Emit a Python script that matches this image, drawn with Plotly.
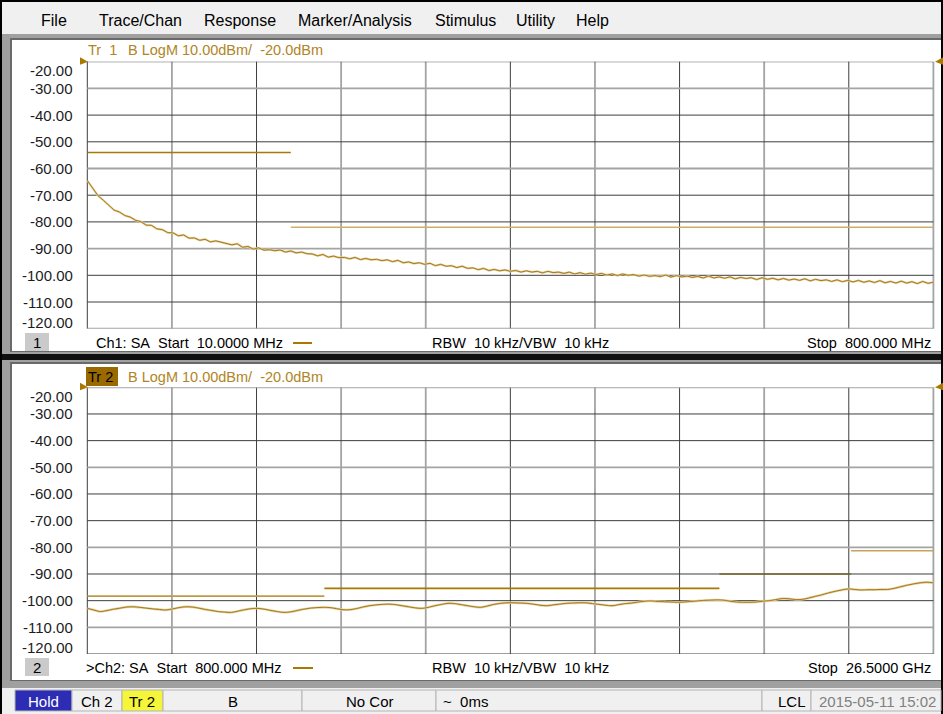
import numpy as np
import plotly.graph_objects as go

# ---------------- data ----------------
y_ticks = [-20, -30, -40, -50, -60, -70, -80, -90, -100, -110, -120]
y_tick_labels = ["-20.00", "-30.00", "-40.00", "-50.00", "-60.00", "-70.00",
                 "-80.00", "-90.00", "-100.00", "-110.00", "-120.00"]

ch1_start_mhz = 10.0
ch1_stop_mhz = 800.0
ch1_trace_dbm = [
    -64.5, -67.6, -70.2, -71.9, -73.8, -75.6, -76.3, -77.6, -78.2, -79.4,
    -79.9, -81.2, -81.3, -82.6, -82.9, -84.0, -84.1, -85.2, -84.9, -86.1,
    -86.0, -86.9, -86.5, -87.5, -87.1, -87.6, -87.9, -88.6, -88.2, -89.5,
    -89.2, -90.2, -89.7, -90.6, -90.4, -90.8, -90.5, -91.3, -90.9, -91.6,
    -91.3, -91.9, -92.0, -92.7, -92.2, -93.2, -92.8, -93.4, -93.3, -93.8,
    -93.3, -94.1, -93.7, -94.2, -94.0, -94.5, -94.2, -94.9, -94.4, -95.3,
    -95.0, -95.6, -95.3, -95.9, -95.5, -96.4, -95.9, -96.6, -96.4, -97.1,
    -96.6, -97.4, -97.2, -97.9, -97.4, -98.2, -97.8, -98.3, -98.0, -98.5,
    -98.2, -98.8, -98.3, -98.8, -98.5, -99.1, -98.5, -99.0, -98.8, -99.3,
    -98.8, -99.5, -99.0, -99.6, -99.2, -99.7, -99.3, -99.9, -99.5, -100.1,
    -99.5, -100.0, -99.7, -100.3, -99.9, -100.4, -100.1, -100.5, -99.9, -100.7,
    -100.1, -100.6, -100.3, -100.8, -100.4, -101.0, -100.3, -101.0, -100.6, -101.1,
    -100.6, -101.3, -100.8, -101.2, -100.9, -101.6, -100.9, -101.5, -101.1, -101.7,
    -101.2, -101.8, -101.4, -101.9, -101.3, -102.1, -101.5, -102.0, -101.7, -102.3,
    -101.7, -102.4, -101.9, -102.5, -101.9, -102.6, -102.1, -102.7, -102.0, -102.8,
    -102.3, -102.9, -102.2, -102.9, -102.4, -103.1, -102.3, -103.0, -102.6,
]
ch1_limit_start = [10.0, 200.0]
ch1_limit_stop = [200.0, 800.0]
ch1_limit_level = [-54.0, -82.0]

ch2_start_ghz = 0.8
ch2_stop_ghz = 26.5
ch2_trace_dbm = [
    -102.9, -103.5, -104.1, -103.7, -103.2, -102.8, -102.4, -102.3, -102.5, -102.8,
    -103.1, -103.3, -103.5, -103.1, -102.6, -102.3, -102.4, -102.8, -103.3, -103.7,
    -104.1, -104.3, -104.4, -103.9, -103.4, -103.0, -102.9, -103.2, -103.7, -104.1,
    -104.4, -104.2, -103.7, -103.2, -102.8, -102.6, -102.5, -102.6, -103.0, -103.4,
    -103.4, -103.0, -102.4, -101.9, -101.6, -101.4, -101.3, -101.5, -101.9, -102.3,
    -102.7, -102.9, -102.5, -101.9, -101.4, -101.0, -101.1, -101.5, -101.9, -102.3,
    -102.5, -102.0, -101.4, -101.0, -100.8, -100.8, -100.9, -101.0, -101.3, -101.7,
    -101.9, -101.6, -101.3, -101.0, -100.9, -100.8, -100.8, -101.1, -101.4, -101.7,
    -101.9, -101.5, -101.1, -100.9, -100.5, -100.2, -100.1, -100.3, -100.4, -100.5,
    -100.6, -100.5, -100.3, -100.1, -99.9, -99.8, -99.7, -99.8, -100.2, -100.5,
    -100.6, -100.6, -100.5, -100.2, -100.0, -99.6, -99.2, -99.3, -99.6, -99.5,
    -99.0, -98.4, -97.8, -97.1, -96.5, -96.0, -95.6, -95.8, -96.0, -95.9,
    -95.9, -95.8, -95.8, -95.4, -94.8, -94.2, -93.7, -93.3, -93.1, -93.3,
]
ch2_limit_start = [0.8, 8.0, 20.0, 24.0]
ch2_limit_stop = [8.0, 20.0, 24.0, 26.5]
ch2_limit_level = [-98.3, -95.4, -90.0, -81.3]

menu_items = ["File", "Trace/Chan", "Response", "Marker/Analysis", "Stimulus", "Utility", "Help"]

# ---------------- geometry helpers (pixels -> paper) ----------------
W, H = 943, 714


def X(px):
    return px / W


def Y(py):
    return 1 - py / H


PLOT_L, PLOT_R = 87.3, 933.4
P1_T, P1_B = 61.7, 328.7
P2_T, P2_B = 387.3, 654.0

TRACE = "#a57a12"
HALO = "#e2d1a4"
GOLD_TXT = "#b08526"
DARK = "#3e3e3e"
GRAY = "#a4a4a4"
FONT = "Liberation Sans, Arial, sans-serif"

fig = go.Figure()

x1 = np.linspace(ch1_start_mhz, ch1_stop_mhz, len(ch1_trace_dbm))
x2 = np.linspace(ch2_start_ghz, ch2_stop_ghz, len(ch2_trace_dbm))

lim1_colors = ["#a87800", "#cdae6a"]
lim2_colors = ["#c09a48", "#a87800", "#7a6630", "#c7a35a"]
for s, e, lv, c in zip(ch1_limit_start, ch1_limit_stop, ch1_limit_level, lim1_colors):
    fig.add_trace(go.Scatter(x=[s, e], y=[lv, lv], mode="lines", line=dict(color=c, width=1.6),
                             xaxis="x", yaxis="y", hoverinfo="skip"))
for s, e, lv, c in zip(ch2_limit_start, ch2_limit_stop, ch2_limit_level, lim2_colors):
    fig.add_trace(go.Scatter(x=[s, e], y=[lv, lv], mode="lines", line=dict(color=c, width=1.6),
                             xaxis="x2", yaxis="y2", hoverinfo="skip"))

fig.add_trace(go.Scatter(x=x1, y=ch1_trace_dbm, mode="lines", line=dict(color=HALO, width=2.2),
                         xaxis="x", yaxis="y", hoverinfo="skip"))
fig.add_trace(go.Scatter(x=x1, y=ch1_trace_dbm, mode="lines", line=dict(color=TRACE, width=1.0),
                         xaxis="x", yaxis="y"))
fig.add_trace(go.Scatter(x=x2, y=ch2_trace_dbm, mode="lines", line=dict(color=HALO, width=2.4, shape="spline"),
                         xaxis="x2", yaxis="y2", hoverinfo="skip"))
fig.add_trace(go.Scatter(x=x2, y=ch2_trace_dbm, mode="lines", line=dict(color=TRACE, width=1.0, shape="spline"),
                         xaxis="x2", yaxis="y2"))

shapes = []


def rect(x0, y0, x1_, y1_, fill, line_color=None, lw=0, layer="below"):
    shapes.append(dict(type="rect", xref="paper", yref="paper",
                       x0=X(x0), x1=X(x1_), y0=Y(y1_), y1=Y(y0),
                       fillcolor=fill, line=dict(color=line_color or fill, width=lw), layer=layer))


# window frame
rect(0, 0, W, H, "#000000")
rect(2, 2, 941, 34, "#f0f0f0")
rect(2, 34, 941, 688, "#a0a0a0")
rect(10, 38, 941, 352, "#6a6a6a")
rect(12, 40, 941, 351, "#ffffff")
rect(2, 354, 941, 360, "#101010")
rect(10, 362, 941, 681, "#6a6a6a")
rect(12, 364, 941, 680, "#ffffff")
rect(2, 688, 941, 714, "#f0f0f0")

# grid lines
v_styles = ["d", "g", "d", "g", "g", "d", "g", "d", "g", "d", "g"]
for ax_x, ax_y, hpat in (("x", "y", 1), ("x2", "y2", 0)):
    for i, st in enumerate(v_styles):
        shapes.append(dict(type="line", xref=ax_x + " domain", yref=ax_y + " domain",
                           x0=i / 10, x1=i / 10, y0=0, y1=1, layer="below",
                           line=dict(color=DARK if st == "d" else GRAY, width=1 if st == "d" else 1.8)))
    for k, v in enumerate(y_ticks):
        g = (k % 3 == hpat)
        shapes.append(dict(type="line", xref=ax_x + " domain", yref=ax_y,
                           x0=0, x1=1, y0=v, y1=v, layer="below",
                           line=dict(color=GRAY if g else DARK, width=1.8 if g else 1)))

# reference arrows
for top in (P1_T, P2_T):
    shapes.append(dict(type="path", xref="paper", yref="paper", fillcolor="#a87800",
                       line=dict(color="#a87800", width=0),
                       path=f"M {X(80)},{Y(top-4.5)} L {X(88)},{Y(top)} L {X(80)},{Y(top+3)} Z"))
    shapes.append(dict(type="path", xref="paper", yref="paper", fillcolor="#a87800",
                       line=dict(color="#a87800", width=0),
                       path=f"M {X(943)},{Y(top-4.5)} L {X(935)},{Y(top)} L {X(943)},{Y(top+3)} Z"))

# Tr 2 highlight box, panel number boxes
rect(86, 367, 118, 386, "#9a6a00")
rect(25, 333, 49, 351, "#cacaca")
rect(25, 658, 49, 676, "#cacaca")
# footer gold dashes
shapes.append(dict(type="line", xref="paper", yref="paper", x0=X(293), x1=X(312), y0=Y(343), y1=Y(343),
                   line=dict(color="#a87800", width=2)))
shapes.append(dict(type="line", xref="paper", yref="paper", x0=X(293), x1=X(313), y0=Y(668), y1=Y(668),
                   line=dict(color="#a87800", width=2)))

# status bar cells
cells = [(15, 72, "#2c2cb4"), (72, 122, "#f0f0f0"), (122, 163, "#f5f53a"), (163, 302, "#f0f0f0"),
         (302, 436, "#f0f0f0"), (436, 762, "#f0f0f0"), (762, 811, "#f0f0f0"), (811, 941, "#f0f0f0")]
for a, b, c in cells:
    rect(a, 690, b, 711, c, "#b4b4b4", 1)
rect(124, 692, 161, 709, "#f5f53a")

annotations = []


def text(px, py, s, size=14.5, color="#000000", anchor="left", family=FONT, xref="paper", yref="paper", yshift=0):
    annotations.append(dict(x=X(px) if xref == "paper" else px,
                            y=Y(py) if yref == "paper" else py,
                            xref=xref, yref=yref, text=s, showarrow=False,
                            xanchor=anchor, yanchor="middle", yshift=yshift,
                            font=dict(family=family, size=size, color=color)))


# menu
menu_centers = [53.5, 140, 240, 355, 465, 535, 592]
for m, cx in zip(menu_items, menu_centers):
    text(cx, 20, m, size=16, anchor="center")

# headers
NB = "\u00a0"
text(86, 50, f"Tr{NB}{NB}1", color=GOLD_TXT)
text(126, 50, f"B LogM 10.00dBm/{NB}{NB}-20.0dBm", color=GOLD_TXT)
text(86, 377, f"Tr{NB}2", color="#000000")
text(126, 377, f"B LogM 10.00dBm/{NB}{NB}-20.0dBm", color=GOLD_TXT)

# y tick labels
for yax in ("y", "y2"):
    for v, lab in zip(y_ticks, y_tick_labels):
        sh = -9 if v == y_ticks[0] else (6.5 if v == y_ticks[-1] else 0)
        text(75, v, lab, size=15, color="#1c1c24", anchor="right", yref=yax, yshift=sh)

# footers
text(37, 342, "1", anchor="center", size=15)
text(37, 667, "2", anchor="center", size=15)
text(94, 343, f"Ch1:{NB}SA{NB}{NB}Start{NB}{NB}10.0000 MHz")
text(84, 668, f"&gt;Ch2:{NB}SA{NB}{NB}Start{NB}{NB}800.000 MHz")
for py in (343, 668):
    text(430, py, f"RBW{NB}{NB}10 kHz/VBW{NB}{NB}10 kHz")
text(933, 343, f"Stop{NB}{NB}800.000 MHz", anchor="right")
text(933, 668, f"Stop{NB}{NB}26.5000 GHz", anchor="right")

# status bar text
text(43.5, 701, "Hold", color="#ffffff", anchor="center", size=15)
text(97, 701, f"Ch{NB}2", anchor="center", size=15)
text(142, 701, f"Tr{NB}2", anchor="center", size=15)
text(233, 701, "B", anchor="center", size=15)
text(370, 701, f"No{NB}Cor", anchor="center", size=15)
text(441, 701, f"~{NB}{NB}0ms", size=15)
text(792, 701, "LCL", anchor="center", size=15)
text(877, 701, "2015-05-11 15:02", anchor="center", size=15, color="#808080")

axis_common = dict(showgrid=False, zeroline=False, showticklabels=False, showline=False, ticks="",
                   fixedrange=True)
fig.update_layout(
    width=W, height=H, margin=dict(l=0, r=0, t=0, b=0),
    paper_bgcolor="#000000", plot_bgcolor="rgba(0,0,0,0)",
    showlegend=False,
    xaxis=dict(domain=[X(PLOT_L), X(PLOT_R)], range=[ch1_start_mhz, ch1_stop_mhz], anchor="y", **axis_common),
    yaxis=dict(domain=[Y(P1_B), Y(P1_T)], range=[y_ticks[-1], y_ticks[0]], anchor="x", **axis_common),
    xaxis2=dict(domain=[X(PLOT_L), X(PLOT_R)], range=[ch2_start_ghz, ch2_stop_ghz], anchor="y2", **axis_common),
    yaxis2=dict(domain=[Y(P2_B), Y(P2_T)], range=[y_ticks[-1], y_ticks[0]], anchor="x2", **axis_common),
    shapes=shapes, annotations=annotations,
)

fig.write_html("out.html", config={"displayModeBar": False},
               post_script="document.body.style.margin='0px';document.body.style.overflow='hidden';")
